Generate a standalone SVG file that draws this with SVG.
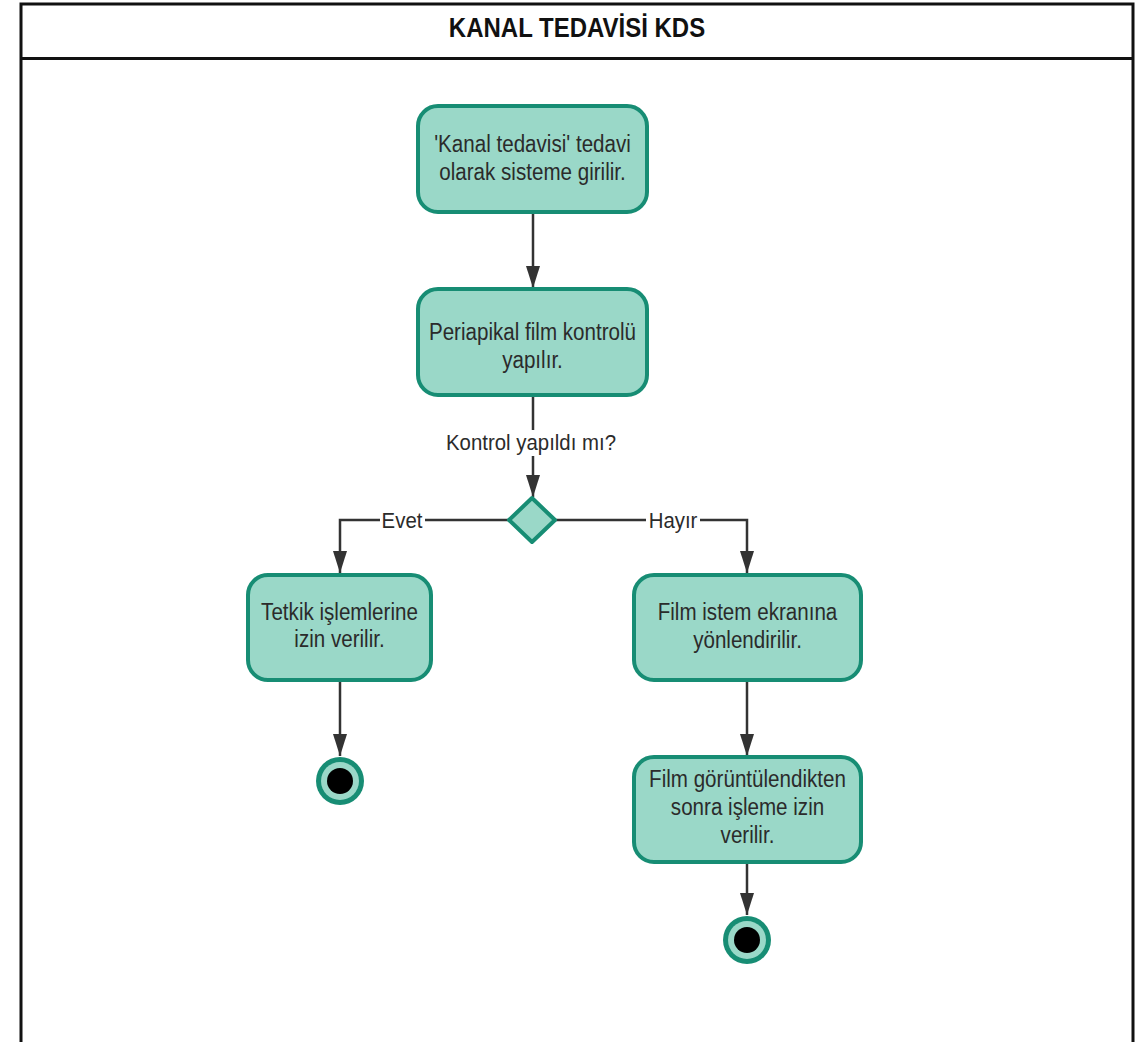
<svg xmlns="http://www.w3.org/2000/svg" width="1145" height="1042" viewBox="0 0 1145 1042">
  <defs>
    <marker id="tip" viewBox="0 0 22 14" refX="22" refY="7" markerWidth="22" markerHeight="14" markerUnits="userSpaceOnUse" orient="auto">
      <path d="M0,0 L22,7 L0,14 Z" fill="#333333"/>
    </marker>
  </defs>
  <style>
    .frame { fill: none; stroke: #111111; stroke-width: 3; }
    .title { font-family: "Liberation Sans", Arial, sans-serif; font-size: 24px; font-weight: bold; fill: #111111; text-anchor: middle; }
    .box { fill: #9ad8c8; stroke: #178d74; stroke-width: 4; }
    .diamond { fill: #9ad8c8; stroke: #178d74; stroke-width: 4; stroke-linejoin: round; }
    .txt { font-family: "Liberation Sans", Arial, sans-serif; font-size: 20.6px; fill: #2b2b2b; text-anchor: middle; }
    .lbl { font-family: "Liberation Sans", Arial, sans-serif; font-size: 20.4px; fill: #2b2b2b; text-anchor: middle; }
    .edge { fill: none; stroke: #333333; stroke-width: 2.5; }
    .lblbg { fill: #ffffff; }
    .endOuter { fill: #178d74; }
    .endRing { fill: #9ad8c8; }
    .endCore { fill: #000000; }
  </style>

  <rect x="0" y="0" width="1145" height="1042" fill="#ffffff"/>

  <!-- frame with header -->
  <g id="frame">
    <path class="frame" d="M21,1042 L21,4 L1133,4 L1133,1042"/>
    <line class="frame" x1="21" y1="58.5" x2="1133" y2="58.5"/>
    <text class="title" transform="translate(577,37) scale(1,1.12)">KANAL TEDAVİSİ KDS</text>
  </g>

  <!-- connectors -->
  <g id="connectors">
    <line class="edge" x1="533" y1="212" x2="533" y2="288" marker-end="url(#tip)"/>
    <line class="edge" x1="533" y1="395" x2="533" y2="430"/>
    <line class="edge" x1="533" y1="456" x2="533" y2="497" marker-end="url(#tip)"/>
    <polyline class="edge" points="509,520 340,520 340,573" marker-end="url(#tip)"/>
    <polyline class="edge" points="556,520 747,520 747,573" marker-end="url(#tip)"/>
    <line class="edge" x1="340" y1="680" x2="340" y2="756" marker-end="url(#tip)"/>
    <line class="edge" x1="747" y1="680" x2="747" y2="756" marker-end="url(#tip)"/>
    <line class="edge" x1="747" y1="862" x2="747" y2="915" marker-end="url(#tip)"/>
    <!-- edge labels -->
    <rect class="lblbg" x="444" y="430" width="178" height="26"/>
    <text class="lbl" transform="translate(531,450) scale(1,1.12)">Kontrol yapıldı mı?</text>
    <rect class="lblbg" x="380" y="508" width="45" height="24"/>
    <text class="lbl" transform="translate(402,528) scale(1,1.12)">Evet</text>
    <rect class="lblbg" x="646" y="508" width="54" height="24"/>
    <text class="lbl" transform="translate(673,528) scale(1,1.12)">Hayır</text>
  </g>

  <g id="n1">
    <rect class="box" x="418" y="106" width="229" height="106" rx="20"/>
    <text class="txt" transform="translate(532.5,152) scale(1,1.14)"><tspan x="0" y="0">'Kanal tedavisi' tedavi</tspan><tspan x="0" y="24.5">olarak sisteme girilir.</tspan></text>
  </g>

  <g id="n2">
    <rect class="box" x="418" y="289" width="229" height="106" rx="20"/>
    <text class="txt" transform="translate(532.5,340) scale(1,1.14)"><tspan x="0" y="0">Periapikal film kontrolü</tspan><tspan x="0" y="24.5">yapılır.</tspan></text>
  </g>

  <g id="decision">
    <polygon class="diamond" points="532,498 555,520 532,542 509,520"/>
  </g>

  <g id="n3">
    <rect class="box" x="248" y="575" width="183" height="105" rx="20"/>
    <text class="txt" transform="translate(339.5,620) scale(1,1.14)"><tspan x="0" y="0">Tetkik işlemlerine</tspan><tspan x="0" y="24">izin verilir.</tspan></text>
  </g>

  <g id="end1">
    <circle class="endOuter" cx="340" cy="781" r="24"/>
    <circle class="endRing" cx="340" cy="781" r="19"/>
    <circle class="endCore" cx="340" cy="781" r="13"/>
  </g>

  <g id="n4">
    <rect class="box" x="634" y="575" width="227" height="105" rx="20"/>
    <text class="txt" transform="translate(747.5,620) scale(1,1.14)"><tspan x="0" y="0">Film istem ekranına</tspan><tspan x="0" y="24.5">yönlendirilir.</tspan></text>
  </g>

  <g id="n5">
    <rect class="box" x="634" y="757" width="227" height="105" rx="20"/>
    <text class="txt" transform="translate(747.5,787) scale(1,1.14)"><tspan x="0" y="0">Film görüntülendikten</tspan><tspan x="0" y="24.5">sonra işleme izin</tspan><tspan x="0" y="49">verilir.</tspan></text>
  </g>

  <g id="end2">
    <circle class="endOuter" cx="747" cy="940" r="24"/>
    <circle class="endRing" cx="747" cy="940" r="19"/>
    <circle class="endCore" cx="747" cy="940" r="13"/>
  </g>
</svg>
